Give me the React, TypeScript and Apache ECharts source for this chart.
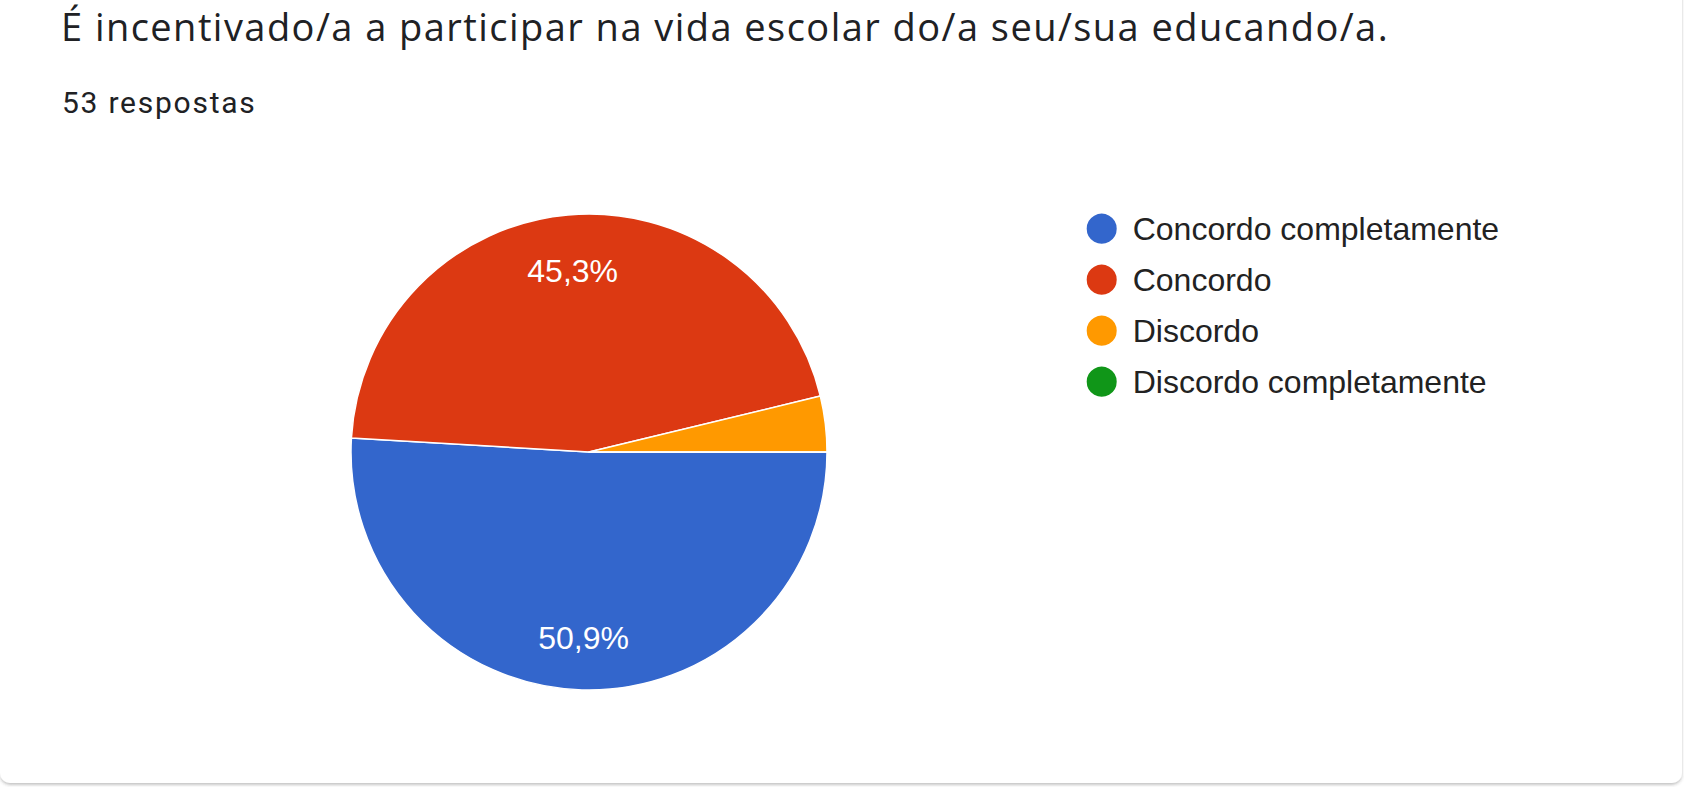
import React, { useEffect, useRef } from "react";
import * as echarts from "echarts";

const titleText = "É incentivado/a a participar na vida escolar do/a seu/sua educando/a.";
const subtitleText = "53 respostas";
const categories = [
  "Concordo completamente",
  "Concordo",
  "Discordo",
  "Discordo completamente",
];
const counts = [27, 24, 2, 0];
const colors = ["#3366cc", "#dc3912", "#ff9900", "#109618"];

const total = counts.reduce((a, b) => a + b, 0);
const fmtPct = (v: number) => (v / total * 100).toFixed(1).replace(".", ",") + "%";

export default function App() {
  const ref = useRef<HTMLDivElement>(null);
  useEffect(() => {
    if (!ref.current) return;
    const chart = echarts.init(ref.current, null, { renderer: "svg" });
    const data = categories.map((name, i) => ({
      name,
      value: counts[i],
      itemStyle: { color: colors[i] },
    }));
    chart.setOption({
      animation: false,
      backgroundColor: "#ffffff",
      graphic: [
        {
          type: "rect",
          z: -10,
          silent: true,
          shape: { x: 0, y: -20, width: 1682, height: 803, r: 10 },
          style: {
            fill: "#ffffff",
            shadowBlur: 3,
            shadowOffsetY: 2,
            shadowColor: "rgba(60,64,67,0.3)",
          },
        },
      ],
      title: [
        {
          text: titleText,
          left: 61,
          top: 7,
          padding: 0,
          textStyle: {
            fontFamily: "'Open Sans'",
            fontSize: 38,
            lineHeight: 38,
            fontWeight: "normal",
            color: "#202124",
          },
        },
        {
          text: subtitleText,
          left: 62,
          top: 87.5,
          padding: 0,
          textStyle: {
            fontFamily: "Roboto",
            fontSize: 30,
            lineHeight: 30,
            fontWeight: "normal",
            color: "#202124",
          },
        },
      ],
      legend: {
        orient: "vertical",
        left: 1084.7,
        top: 211.7,
        padding: 0,
        icon: "circle",
        itemWidth: 52,
        itemHeight: 32,
        itemGap: 17,
        selectedMode: false,
        data: categories.map((name, i) => ({ name, itemStyle: { color: colors[i] } })),
        textStyle: {
          fontFamily: "'Liberation Sans', Arial",
          fontSize: 32,
          lineHeight: 32,
          color: "#222222",
        },
      },
      series: [
        {
          type: "pie",
          center: [589, 452],
          radius: [0, 238],
          startAngle: 0,
          clockwise: true,
          silent: true,
          label: { show: false },
          labelLine: { show: false },
          itemStyle: { borderColor: "#ffffff", borderWidth: 1.5 },
          emphasis: { disabled: true },
          data,
        },
        {
          type: "pie",
          center: [589, 454.2],
          radius: [124, 238],
          startAngle: 0,
          clockwise: true,
          silent: true,
          legendHoverLink: false,
          itemStyle: { color: "rgba(0,0,0,0)", borderWidth: 0 },
          emphasis: { disabled: true },
          labelLine: { show: false },
          label: {
            show: true,
            position: "inside",
            fontFamily: "'Liberation Sans', Arial",
            fontSize: 32,
            color: "#ffffff",
            formatter: (p: any) => (p.value / total * 100 >= 5 ? fmtPct(p.value) : ""),
          },
          data: categories.map((name, i) => ({ name, value: counts[i] })),
        },
      ],
    });
    return () => chart.dispose();
  }, []);
  return (
    <div style={{ position: "absolute", left: 0, top: 0, width: 1684, height: 787 }}>
      <style>{`
        text[style*="Open Sans"] { letter-spacing: 1.45px; }
        text[style*="Roboto"] { letter-spacing: 1.75px; }
      `}</style>
      <div ref={ref} style={{ width: 1684, height: 787 }} />
    </div>
  );
}
